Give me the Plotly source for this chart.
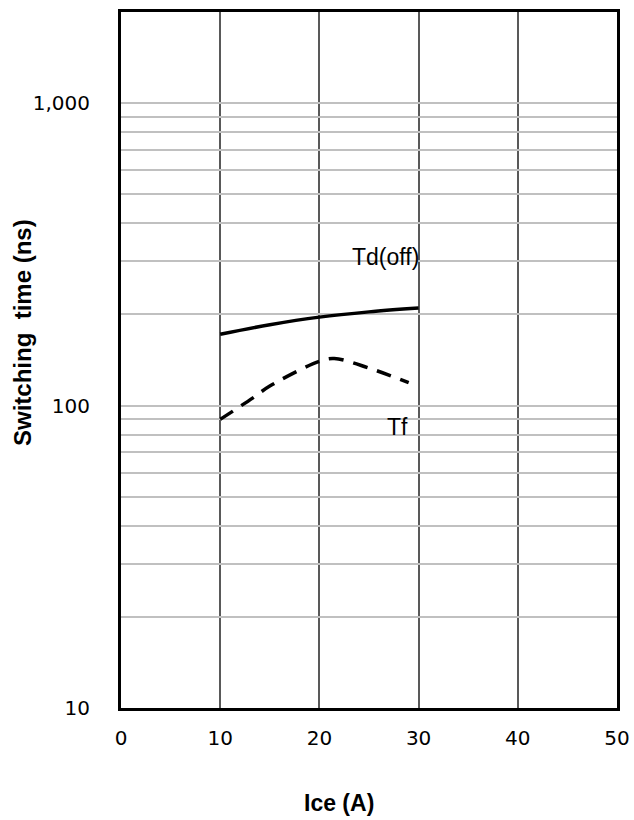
import plotly.graph_objects as go

# Data
ice_td = [10, 15, 20, 25, 30]
td_off = [172, 185, 196, 204, 210]
ice_tf = [10, 13.3, 15, 20, 21.5, 25, 29]
tf = [90, 106, 116, 140, 143, 133, 119]

y_tickvals = [10, 20, 30, 40, 50, 60, 70, 80, 90,
              100, 200, 300, 400, 500, 600, 700, 800, 900,
              1000, 2000]
y_ticktext = ["10", "", "", "", "", "", "", "", "",
              "100", "", "", "", "", "", "", "", "",
              "1,000", ""]
x_tickvals = [0, 10, 20, 30, 40, 50]

fig = go.Figure()
fig.add_trace(go.Scatter(x=ice_td, y=td_off, mode="lines",
                         line=dict(color="black", width=3.5, shape="spline"),
                         showlegend=False))
fig.add_trace(go.Scatter(x=ice_tf, y=tf, mode="lines",
                         line=dict(color="black", width=3.5, shape="spline", dash="15px,10px"),
                         showlegend=False))

fig.add_annotation(x=26.66, y=2.4916, xref="x", yref="y", text="Td(off)", showarrow=False,
                   font=dict(family="Liberation Sans", size=23, color="black"))
fig.add_annotation(x=27.92, y=1.929, xref="x", yref="y", text="Tf", showarrow=False,
                   font=dict(family="Liberation Sans", size=23, color="black"))

# axis titles
fig.add_annotation(x=-0.1986, y=0.5395, xref="paper", yref="paper", text="<b>Switching  time (ns)</b>",
                   textangle=-90, showarrow=False, xanchor="center", yanchor="middle",
                   font=dict(family="Liberation Sans", size=24, color="black"))
fig.add_annotation(x=0.4395, y=-0.1365, xref="paper", yref="paper", text="<b>Ice (A)</b>",
                   showarrow=False, xanchor="center", yanchor="middle",
                   font=dict(family="Liberation Sans", size=23, color="black"))

fig.update_layout(
    width=634, height=820,
    margin=dict(l=121, r=17, t=12, b=112),
    paper_bgcolor="white", plot_bgcolor="white",
    font=dict(family="DejaVu Sans", color="black"),
)
fig.update_xaxes(
    range=[0, 50], tickvals=x_tickvals, ticks="", ticklabelstandoff=10, automargin=False,
    tickfont=dict(family="DejaVu Sans", size=20, color="black"),
    showgrid=True, gridcolor="#595959", gridwidth=1.5,
    showline=True, linecolor="black", linewidth=3, mirror=True, zeroline=False,
)
fig.update_yaxes(
    type="log", range=[1, 3.301], tickvals=y_tickvals, ticktext=y_ticktext, ticks="",
    ticklabelstandoff=24, automargin=False,
    tickfont=dict(family="DejaVu Sans", size=20, color="black"),
    showgrid=True, gridcolor="#c0c0c0", gridwidth=2,
    showline=True, linecolor="black", linewidth=3, mirror=True, zeroline=False,
)

fig.write_html("out.html", config={"displayModeBar": False},
               post_script="document.body.style.margin='0';document.body.style.overflow='hidden';")
